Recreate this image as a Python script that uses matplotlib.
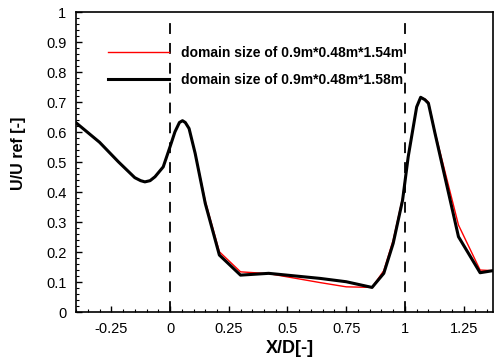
import matplotlib
matplotlib.use('Agg')
import matplotlib.pyplot as plt
from matplotlib.ticker import MultipleLocator

plt.rcParams['font.family'] = ['Liberation Sans', 'DejaVu Sans']

x_d = [-0.4, -0.3, -0.22, -0.15, -0.125, -0.107, -0.085, -0.064, -0.029, 0.0,
       0.021, 0.04, 0.053, 0.065, 0.081, 0.107, 0.15, 0.21, 0.30, 0.42,
       0.64, 0.75, 0.86, 0.91, 0.95, 0.99, 1.014, 1.05, 1.067, 1.085,
       1.1, 1.128, 1.228, 1.32, 1.375]
u_154 = [0.631, 0.566, 0.501, 0.448, 0.438, 0.434, 0.438, 0.451, 0.484, 0.551,
         0.601, 0.632, 0.638, 0.632, 0.612, 0.529, 0.37, 0.201, 0.134, 0.128,
         0.098, 0.084, 0.082, 0.138, 0.24, 0.38, 0.52, 0.684, 0.716, 0.71,
         0.70, 0.60, 0.29, 0.14, 0.138]
u_158 = [0.631, 0.566, 0.501, 0.448, 0.438, 0.434, 0.438, 0.451, 0.484, 0.551,
         0.601, 0.632, 0.638, 0.632, 0.612, 0.529, 0.362, 0.19, 0.123, 0.129,
         0.112, 0.101, 0.082, 0.129, 0.229, 0.373, 0.518, 0.684, 0.716, 0.708,
         0.696, 0.596, 0.251, 0.131, 0.138]
labels = ['domain size of 0.9m*0.48m*1.54m', 'domain size of 0.9m*0.48m*1.58m']
x_ticks = [-0.25, 0, 0.25, 0.5, 0.75, 1, 1.25]
x_ticklabels = ['-0.25', '0', '0.25', '0.5', '0.75', '1', '1.25']
y_ticks = [0, 0.1, 0.2, 0.3, 0.4, 0.5, 0.6, 0.7, 0.8, 0.9, 1]
y_ticklabels = ['0', '0.1', '0.2', '0.3', '0.4', '0.5', '0.6', '0.7', '0.8', '0.9', '1']
cyl_edges = [0, 1]

fig = plt.figure(figsize=(4.94, 3.57), dpi=100)
ax = fig.add_axes([0.154, 0.126, 0.844, 0.840])

ax.vlines(cyl_edges, 0, 0.98, colors='black', linestyles=(0, (6, 5)), lw=1.3)
ax.plot(x_d, u_154, color='red', lw=1.0, label=labels[0])
ax.plot(x_d, u_158, color='black', lw=2.2, label=labels[1])

ax.set_xlim(-0.4, 1.375)
ax.set_ylim(0, 1)
ax.set_xticks(x_ticks)
ax.set_xticklabels(x_ticklabels)
ax.set_yticks(y_ticks)
ax.set_yticklabels(y_ticklabels)
ax.xaxis.set_minor_locator(MultipleLocator(0.05))
ax.yaxis.set_minor_locator(MultipleLocator(0.02))
ax.tick_params(which='major', direction='in', length=4, width=1, labelsize=10.5, pad=7)
ax.tick_params(which='minor', direction='in', length=2, width=0.8)
for s in ax.spines.values():
    s.set_linewidth(1.2)

ax.set_xlabel('X/D[-]', fontsize=13, fontweight='bold')
ax.set_ylabel('U/U ref [-]', fontsize=11.5, fontweight='bold')
ax.xaxis.set_label_coords(0.513, -0.093)
ax.yaxis.set_label_coords(-0.12, 0.53)

leg = ax.legend(loc='upper left', bbox_to_anchor=(0.06, 0.91), frameon=False,
                handlelength=4.4, handletextpad=0.86, labelspacing=0.9,
                prop={'size': 10, 'weight': 'bold'}, borderpad=0)

fig.savefig('out.png', dpi=100)
